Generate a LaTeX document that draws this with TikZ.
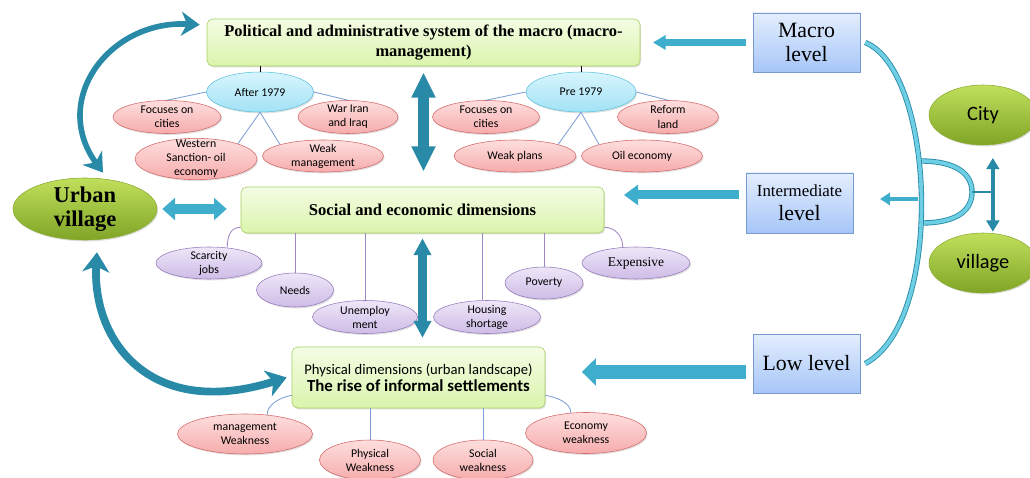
\documentclass[tikz,border=0pt]{standalone}
\usepackage{fontspec}
\setmainfont{Liberation Serif}
\newfontfamily\calib{Carlito}
\usetikzlibrary{arrows.meta, shapes.geometric, shadows}

\definecolor{boxgreen}{RGB}{166,208,96}
\definecolor{greentop}{RGB}{244,252,228}
\definecolor{greenbot}{RGB}{218,244,172}
\definecolor{pinktop}{RGB}{254,222,222}
\definecolor{pinkbot}{RGB}{246,172,172}
\definecolor{pinkline}{RGB}{212,106,106}
\definecolor{skytop}{RGB}{216,245,253}
\definecolor{skybot}{RGB}{162,226,246}
\definecolor{skyline}{RGB}{96,196,224}
\definecolor{liltop}{RGB}{238,230,248}
\definecolor{lilbot}{RGB}{206,188,230}
\definecolor{lilline}{RGB}{150,124,190}
\definecolor{lvltop}{RGB}{228,238,254}
\definecolor{lvlbot}{RGB}{166,198,248}
\definecolor{lvlline}{RGB}{120,152,208}
\definecolor{olivetop}{RGB}{192,224,92}
\definecolor{olivebot}{RGB}{128,164,38}
\definecolor{oliveline}{RGB}{140,172,50}
\definecolor{tealarr}{RGB}{62,174,204}
\definecolor{tealdark}{RGB}{40,138,166}
\definecolor{brkcol}{RGB}{110,206,228}
\definecolor{linkblue}{RGB}{124,158,212}
\definecolor{linklil}{RGB}{160,136,196}

\tikzset{
  sz/.style 2 args={minimum width=#1*0.025cm, minimum height=#2*0.025cm},
  dropsh/.style={drop shadow={opacity=0.25, shadow xshift=0.8pt, shadow yshift=-1pt}},
  ell/.style={ellipse, inner sep=-3pt, align=center, font=\calib\fontsize{8.4}{10}\selectfont, dropsh},
  redell/.style={ell, draw=pinkline, top color=pinktop, bottom color=pinkbot},
  skyell/.style={ell, draw=skyline, top color=skytop, bottom color=skybot},
  lilell/.style={ell, draw=lilline, top color=liltop, bottom color=lilbot},
  olell/.style={ellipse, inner sep=-3pt, align=center, draw=oliveline, top color=olivetop, bottom color=olivebot, dropsh},
  titlebox/.style={rectangle, rounded corners=4pt, draw=boxgreen, top color=greentop, bottom color=greenbot, align=center, inner sep=2pt, dropsh},
  lvlbox/.style={rectangle, draw=lvlline, top color=lvltop, bottom color=lvlbot, align=center, inner sep=2pt, font=\fontsize{15.5}{17}\selectfont, dropsh},
  fatarr/.style={draw=tealarr},
  darkarr/.style={draw=tealdark},
  bracket/.style={draw=tealdark, double=brkcol, double distance=2.6pt, line width=0.6pt},
  link/.style={draw=linkblue, line width=0.6pt},
  lilink/.style={draw=linklil, line width=0.6pt},
  tick/.style={draw=black, line width=0.5pt}
}

\begin{document}
\begin{tikzpicture}[x=0.025cm, y=-0.025cm]
\useasboundingbox (0,0) rectangle (1030,478);

% main boxes
\node[titlebox, sz={433}{47}, font=\bfseries\fontsize{11.7}{14}\selectfont] (pol) at (423.5,42.5)
  {Political and administrative system of the macro (macro-\\management)};
\node[titlebox, sz={363}{46}, font=\bfseries\fontsize{11.8}{13}\selectfont] (soc) at (422.5,210)
  {Social and economic dimensions};
\node[titlebox, sz={253}{61}, font=\calib\fontsize{10.4}{12}\selectfont] (phys) at (418.5,377.5)
  {Physical dimensions (urban landscape)\\{\bfseries\fontsize{12}{13}\selectfont The rise of informal settlements}};

% levels
\node[lvlbox, sz={107}{59}] (macro) at (806.5,42.5) {Macro\\level};
\node[lvlbox, sz={107}{60}] (inter) at (799.5,203) {{\fontsize{12}{14}\selectfont Intermediate}\\level};
\node[lvlbox, sz={107}{59}] (low) at (806.5,363.5) {Low level};

% urban village, city, village
\node[olell, sz={144}{62}, font=\bfseries\fontsize{16}{17}\selectfont] (urban) at (85,209) {Urban\\village};
\node[olell, sz={108}{60}, font=\calib\fontsize{14.5}{16}\selectfont] (city) at (983,115) {City};
\node[olell, sz={108}{60}, font=\calib\fontsize{14.5}{16}\selectfont] (vill) at (983,263) {village};

% political branch
\node[skyell, sz={107}{40}] (aft) at (260,92) {After 1979};
\node[skyell, sz={110}{40}] (pre) at (581,92) {Pre 1979};
\node[redell, sz={108}{33}] (foc1) at (167,117) {Focuses on\\cities};
\node[redell, sz={100}{33}] (war) at (348,117) {War Iran\\and Iraq};
\node[redell, sz={122}{38}] (wes) at (196,159) {Western\\Sanction- oil\\economy};
\node[redell, sz={121}{32}] (wkm) at (323,156) {Weak\\management};
\node[redell, sz={107}{33}] (foc2) at (486,117) {Focuses on\\cities};
\node[redell, sz={101}{33}] (ref) at (668,117) {Reform\\land};
\node[redell, sz={122}{32}] (wpl) at (515,156) {Weak plans};
\node[redell, sz={121}{32}] (oil) at (642,156) {Oil economy};

\draw[tick] (pol.south -| aft.north) -- (aft.north);
\draw[tick] (pol.south -| pre.north) -- (pre.north);
\draw[link] (aft.west) -- (foc1.north);
\draw[link] (aft.east) -- (war.north);
\draw[link] (aft.south) -- (wes.20);
\draw[link] (aft.south) -- (wkm.165);
\draw[link] (pre.west) -- (foc2.north);
\draw[link] (pre.east) -- (ref.north);
\draw[link] (pre.south) -- (wpl.15);
\draw[link] (pre.south) -- (oil.165);

% social branch
\node[lilell, sz={106}{32}] (scar) at (209,263) {Scarcity\\jobs};
\node[lilell, sz={77}{34}] (needs) at (295,290) {Needs};
\node[lilell, sz={105}{33}] (unemp) at (365,317) {Unemploy\\ment};
\node[lilell, sz={107}{33}] (hous) at (487,317) {Housing\\shortage};
\node[lilell, sz={78}{32}] (pov) at (544,283) {Poverty};
\node[lilell, sz={108}{32}, font=\fontsize{9.6}{11}\selectfont] (exp) at (636,263) {Expensive};

\draw[lilink] ([yshift=4.3pt]soc.south west) .. controls +(-10,0) and +(0,-12) .. (scar.40);
\draw[lilink] (needs.north |- soc.south) -- (needs.north);
\draw[lilink] (unemp.north |- soc.south) -- (unemp.north);
\draw[lilink] ([xshift=-3pt]hous.north |- soc.south) -- ([xshift=-3pt]hous.north);
\draw[lilink] (pov.north |- soc.south) -- (pov.north);
\draw[lilink] ([yshift=4.3pt]soc.south east) .. controls +(10,0) and +(0,-12) .. (exp.130);

% physical branch
\node[redell, sz={135}{40}] (mgmt) at (245,434) {management\\Weakness};
\node[redell, sz={101}{40}] (physw) at (370,460) {Physical\\Weakness};
\node[redell, sz={100}{40}] (socw) at (483,460) {Social\\weakness};
\node[redell, sz={121}{41}] (econ) at (586,433) {Economy\\weakness};

\draw[link] ([yshift=9.2pt]phys.south west) .. controls +(-12,2) and +(0,-10) .. (mgmt.41);
\draw[link] (physw.north |- phys.south) -- (physw.north);
\draw[link] (socw.north |- phys.south) -- (socw.north);
\draw[link] ([yshift=9.2pt]phys.south east) .. controls +(12,2) and +(0,-10) .. (econ.127);

% fat arrows
\draw[fatarr, line width=4.5pt, -{Triangle[length=9pt, width=10pt]}, shorten <=5pt, shorten >=9pt]
  (macro.west) -- (pol.east |- macro.west);
\draw[fatarr, line width=6.4pt, -{Triangle[length=10pt, width=14pt]}, shorten <=5pt, shorten >=14pt]
  ([yshift=5.7pt]inter.west) -- ([yshift=5.7pt]inter.west -| soc.east);
\draw[fatarr, line width=9.5pt, -{Triangle[length=10pt, width=19pt]}, shorten <=5pt, shorten >=26pt]
  ([yshift=-6pt]low.west) -- ([yshift=-6pt]low.west -| phys.east);
\draw[fatarr, line width=7pt, {Triangle[length=9pt, width=15.5pt]}-{Triangle[length=9pt, width=15.5pt]}, shorten <=3.6pt, shorten >=10pt]
  (urban.east) -- (urban.east -| soc.west);
\draw[darkarr, line width=8pt, {Triangle[length=18pt, width=16pt]}-{Triangle[length=18pt, width=16pt]}, shorten <=4.3pt, shorten >=10.7pt]
  (pol.south) -- (pol.south |- soc.north);
\draw[darkarr, line width=6pt, {Triangle[length=12pt, width=12pt]}-{Triangle[length=12pt, width=12pt]}, shorten <=3.6pt, shorten >=6.4pt]
  (soc.south) -- (soc.south |- phys.north);

% curved arrows to urban village
\draw[darkarr, line width=4pt, {Stealth[length=13pt, width=17pt, inset=4pt]}-{Stealth[length=13pt, width=17pt, inset=4pt]}]
  ([xshift=-5pt, yshift=-4.3pt]pol.north west) .. controls +(-90,-5) and +(-53,-73) .. ([xshift=12.8pt, yshift=3.6pt]urban.north);
\draw[darkarr, line width=5.5pt, {Stealth[length=14pt, width=19pt, inset=4pt]}-{Stealth[length=14pt, width=19pt, inset=4pt]}]
  ([xshift=8.5pt, yshift=-8.5pt]urban.south) .. controls +(-5,88) and +(-137,43) .. ([xshift=-3.6pt]phys.west);

% levels bracket and city / village
\coordinate (dtop) at (920,161);
\coordinate (dbot) at (921,223);
\coordinate (brkm) at (918,199);
\draw[bracket] (dtop) .. controls +(38,0) and +(0,-17) .. (972,192) coordinate (dtip)
  .. controls +(0,17) and +(38,0) .. (dbot);
\draw[bracket] ([xshift=3.5pt]macro.east) .. controls +(70,28) and +(80,-42) .. ([xshift=3.5pt]low.east);
\draw[tealdark, line width=2pt] (dtip) -- ++(21,0);
\draw[darkarr, line width=3pt, {Triangle[length=8pt, width=9pt]}-{Triangle[length=8pt, width=9pt]}, shorten <=9pt, shorten >=0.7pt]
  ([xshift=7pt]city.south) -- ([xshift=7pt]vill.north);
\draw[fatarr, line width=3.5pt, -{Triangle[length=7pt, width=8.5pt]}, shorten >=19pt]
  (brkm) -- (inter.east |- brkm);
\end{tikzpicture}
\end{document}
